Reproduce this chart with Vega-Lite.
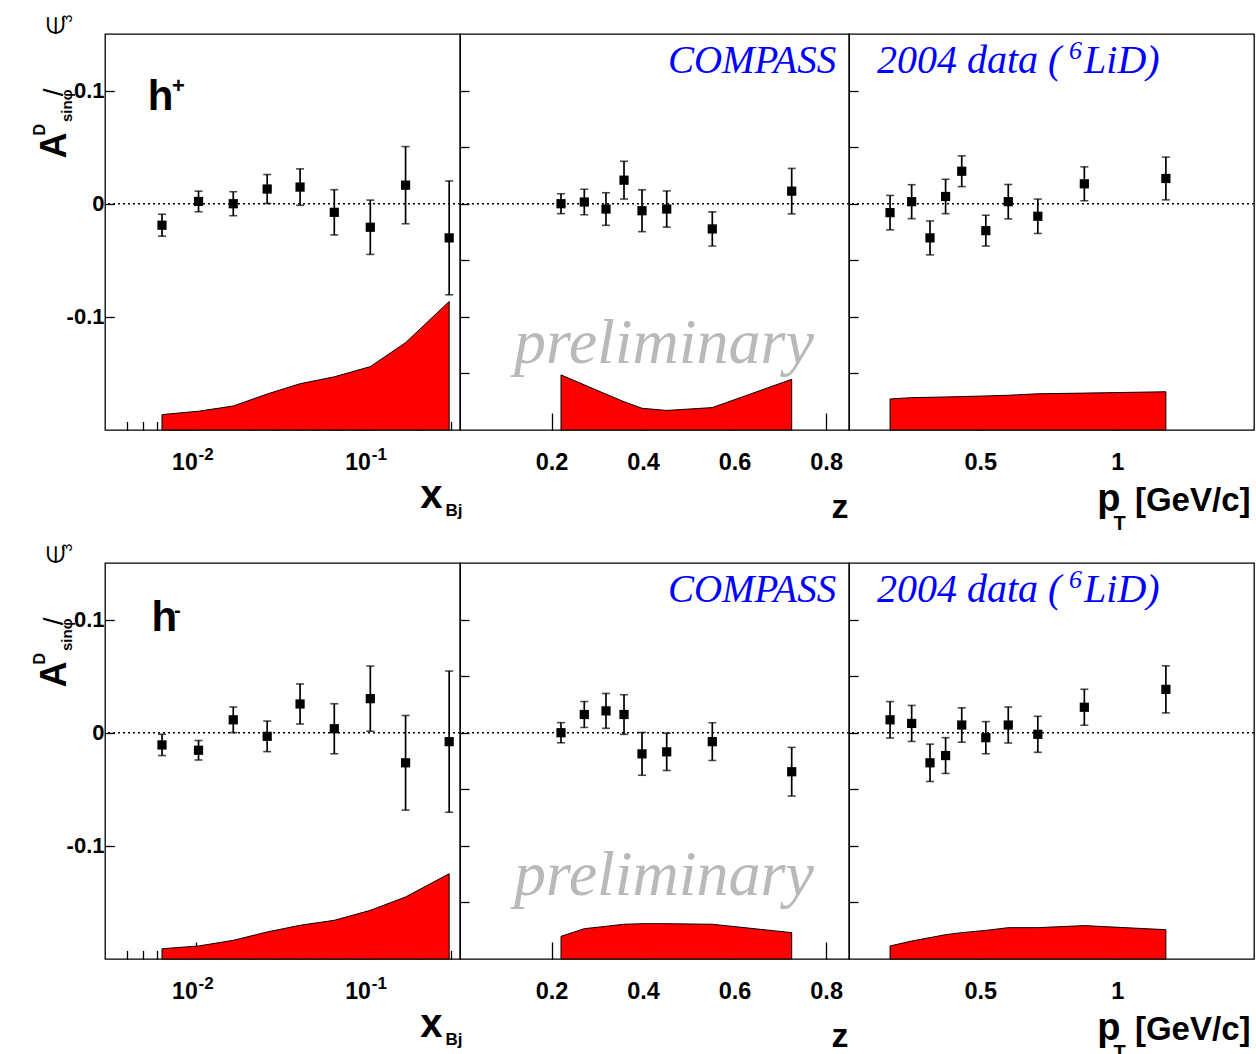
{
  "$schema": "https://vega.github.io/schema/vega-lite/v6.json",
  "background": "white",
  "padding": {"left": 30, "top": 13, "right": 0, "bottom": 0},
  "config": {
    "view": {"stroke": "#000000", "strokeWidth": 1.3},
    "axis": {
      "grid": false, "domain": false, "tickColor": "#000000", "tickWidth": 1.3,
      "labelFont": "Liberation Sans", "labelFontWeight": "bold", "labelFontSize": 22, "labelColor": "#000000",
      "labelFlush": false, "labelOverlap": false,
      "titleFont": "Liberation Sans", "titleFontWeight": "bold", "titleColor": "#000000", "titlePadding": 0
    }
  },
  "datasets": {
    "hp_x": [
      {"xbj": 0.0064, "asym": -0.019, "stat": 0.0097, "sys": 0.0136},
      {"xbj": 0.0104, "asym": 0.002, "stat": 0.0091, "sys": 0.0166},
      {"xbj": 0.0165, "asym": 0.0, "stat": 0.0106, "sys": 0.0212},
      {"xbj": 0.0259, "asym": 0.013, "stat": 0.0128, "sys": 0.0318},
      {"xbj": 0.0401, "asym": 0.0147, "stat": 0.0161, "sys": 0.0409},
      {"xbj": 0.0632, "asym": -0.0076, "stat": 0.02, "sys": 0.047},
      {"xbj": 0.102, "asym": -0.0208, "stat": 0.024, "sys": 0.056},
      {"xbj": 0.163, "asym": 0.0164, "stat": 0.0341, "sys": 0.0772},
      {"xbj": 0.291, "asym": -0.0302, "stat": 0.0503, "sys": 0.1136}
    ],
    "hp_z": [
      {"z": 0.2207, "asym": 0.0, "stat": 0.0088, "sys": 0.0487},
      {"z": 0.2716, "asym": 0.0015, "stat": 0.0113, "sys": 0.0399},
      {"z": 0.319, "asym": -0.0047, "stat": 0.0144, "sys": 0.0317},
      {"z": 0.3584, "asym": 0.0208, "stat": 0.0167, "sys": 0.025},
      {"z": 0.3977, "asym": -0.0062, "stat": 0.0185, "sys": 0.0192},
      {"z": 0.4517, "asym": -0.0047, "stat": 0.016, "sys": 0.0173},
      {"z": 0.5513, "asym": -0.0223, "stat": 0.0151, "sys": 0.0198},
      {"z": 0.7248, "asym": 0.0111, "stat": 0.0201, "sys": 0.0448}
    ],
    "hp_pt": [
      {"pt": 0.17, "asym": -0.0079, "stat": 0.0152, "sys": 0.0274},
      {"pt": 0.249, "asym": 0.0018, "stat": 0.015, "sys": 0.0286},
      {"pt": 0.316, "asym": -0.0302, "stat": 0.015, "sys": 0.0289},
      {"pt": 0.373, "asym": 0.0064, "stat": 0.0152, "sys": 0.0292},
      {"pt": 0.432, "asym": 0.0287, "stat": 0.0136, "sys": 0.0295},
      {"pt": 0.52, "asym": -0.0238, "stat": 0.0136, "sys": 0.0301},
      {"pt": 0.602, "asym": 0.0018, "stat": 0.0152, "sys": 0.0307},
      {"pt": 0.71, "asym": -0.0111, "stat": 0.0152, "sys": 0.032},
      {"pt": 0.88, "asym": 0.0176, "stat": 0.015, "sys": 0.0326},
      {"pt": 1.178, "asym": 0.0223, "stat": 0.0189, "sys": 0.0338}
    ],
    "hm_x": [
      {"xbj": 0.0064, "asym": -0.0108, "stat": 0.0094, "sys": 0.0091},
      {"xbj": 0.0104, "asym": -0.0155, "stat": 0.0086, "sys": 0.0115},
      {"xbj": 0.0165, "asym": 0.0114, "stat": 0.0113, "sys": 0.0165},
      {"xbj": 0.0259, "asym": -0.0032, "stat": 0.0135, "sys": 0.0239},
      {"xbj": 0.0401, "asym": 0.0254, "stat": 0.0177, "sys": 0.0298},
      {"xbj": 0.0632, "asym": 0.0035, "stat": 0.0221, "sys": 0.0342},
      {"xbj": 0.102, "asym": 0.0301, "stat": 0.0288, "sys": 0.043},
      {"xbj": 0.163, "asym": -0.0266, "stat": 0.0418, "sys": 0.0548},
      {"xbj": 0.291, "asym": -0.0079, "stat": 0.0624, "sys": 0.0754}
    ],
    "hm_z": [
      {"z": 0.2207, "asym": 0.0, "stat": 0.0089, "sys": 0.02},
      {"z": 0.2716, "asym": 0.0161, "stat": 0.0115, "sys": 0.0268},
      {"z": 0.319, "asym": 0.0193, "stat": 0.0154, "sys": 0.0289},
      {"z": 0.3584, "asym": 0.0161, "stat": 0.0175, "sys": 0.0307},
      {"z": 0.3977, "asym": -0.0187, "stat": 0.0189, "sys": 0.0312},
      {"z": 0.4517, "asym": -0.0169, "stat": 0.0165, "sys": 0.0312},
      {"z": 0.5513, "asym": -0.0079, "stat": 0.0167, "sys": 0.0307},
      {"z": 0.7248, "asym": -0.0345, "stat": 0.0215, "sys": 0.0233}
    ],
    "hm_pt": [
      {"pt": 0.17, "asym": 0.0114, "stat": 0.0161, "sys": 0.0115},
      {"pt": 0.249, "asym": 0.0082, "stat": 0.0159, "sys": 0.0159},
      {"pt": 0.316, "asym": -0.0266, "stat": 0.0165, "sys": 0.0189},
      {"pt": 0.373, "asym": -0.0202, "stat": 0.0158, "sys": 0.0215},
      {"pt": 0.432, "asym": 0.0068, "stat": 0.0152, "sys": 0.0233},
      {"pt": 0.52, "asym": -0.0044, "stat": 0.0142, "sys": 0.0253},
      {"pt": 0.602, "asym": 0.0068, "stat": 0.0159, "sys": 0.0277},
      {"pt": 0.71, "asym": -0.0014, "stat": 0.0159, "sys": 0.0277},
      {"pt": 0.88, "asym": 0.0225, "stat": 0.0159, "sys": 0.0295},
      {"pt": 1.178, "asym": 0.0383, "stat": 0.0208, "sys": 0.0259}
    ]
  },
  "columns": 3,
  "spacing": {"row": 133, "column": 0},
  "bounds": "flush",
  "align": "each",
  "concat": [
    {
      "width": 355, "height": 396,
      "resolve": {"scale": {"y": "independent"}, "axis": {"x": "independent", "y": "independent"}},
      "layer": [
        {
          "data": {"values": [{}]},
          "mark": {"type": "rule", "color": "#000000", "strokeWidth": 1.4, "strokeDash": [2, 3]},
          "encoding": {
            "y": {"datum": 0, "type": "quantitative", "scale": {"domain": [-0.2, 0.15], "nice": false, "zero": false},
              "axis": {"orient": "left", "values": [-0.1, 0, 0.1], "labelExpr": "datum.value == 0 ? '0' : (datum.value > 0 ? '0.1' : '-0.1')", "tickSize": -9.3, "labelPadding": 10.3,
                "title": "A", "titleFontSize": 36, "titleAngle": 270, "titleAlign": "left", "titleBaseline": "alphabetic", "titleX": -40, "titleY": 124}}
          }
        },
        {
          "data": {"name": "hp_x"},
          "mark": {"type": "area", "color": "#ff0000", "stroke": "#000000", "strokeWidth": 1, "opacity": 1},
          "encoding": {
            "x": {"field": "xbj", "type": "quantitative", "scale": {"type": "log", "domain": [0.003, 0.336], "nice": false},
              "axis": {"orient": "bottom", "values": [0.01, 0.1], "labelExpr": "'10'", "labelFontSize": 23, "labelOffset": -11.2, "tickSize": -17, "labelPadding": 56.3, "labelBaseline": "alphabetic",
                "title": "x", "titleFontSize": 40, "titleAlign": "right", "titleBaseline": "alphabetic", "titleX": 337, "titleY": 77}},
            "y": {"field": "sys", "type": "quantitative", "stack": null, "scale": {"domain": [0, 0.35], "nice": false, "zero": false},
              "axis": {"orient": "left", "labels": false, "ticks": false, "title": "D", "titleFontSize": 16, "titleAngle": 270, "titleAlign": "left", "titleBaseline": "alphabetic", "titleX": -60.7, "titleY": 101}}
          }
        },
        {
          "data": {"name": "hp_x"},
          "mark": {"type": "errorbar", "color": "#000000", "thickness": 1.7, "ticks": {"size": 8, "thickness": 1.6}},
          "encoding": {
            "x": {"field": "xbj", "type": "quantitative", "scale": {"type": "log", "domain": [0.003, 0.336], "nice": false},
              "axis": {"orient": "bottom", "values": [0.004, 0.005, 0.006, 0.007, 0.008, 0.009, 0.02, 0.03, 0.04, 0.05, 0.06, 0.07, 0.08, 0.09, 0.2, 0.3], "labels": false, "tickSize": -8.6,
                "title": "Bj", "titleFontSize": 17, "titleAlign": "left", "titleBaseline": "alphabetic", "titleX": 340, "titleY": 85}},
            "y": {"field": "asym", "type": "quantitative", "scale": {"domain": [-0.2, 0.15], "nice": false, "zero": false},
              "axis": {"orient": "left", "labels": false, "ticks": false, "title": "sinφ", "titleFontSize": 15, "titleAngle": 270, "titleAlign": "left", "titleBaseline": "alphabetic", "titleX": -34, "titleY": 87.5}},
            "yError": {"field": "stat"}
          }
        },
        {
          "data": {"name": "hp_x"},
          "mark": {"type": "point", "shape": "square", "filled": true, "size": 85, "color": "#000000", "opacity": 1},
          "encoding": {
            "x": {"field": "xbj", "type": "quantitative", "scale": {"type": "log", "domain": [0.003, 0.336], "nice": false},
              "axis": {"orient": "bottom", "values": [0.01, 0.1], "labelExpr": "datum.value < 0.05 ? '-2' : '-1'", "ticks": false, "tickSize": 0, "labelFontSize": 17, "labelAlign": "left", "labelOffset": 2.5, "labelPadding": 29, "labelBaseline": "alphabetic", "title": null}},
            "y": {"field": "asym", "type": "quantitative", "scale": {"domain": [-0.2, 0.15], "nice": false, "zero": false},
              "axis": {"orient": "left", "labels": false, "ticks": false, "title": "/", "titleFontSize": 28, "titleFontWeight": "normal", "titleAngle": 270, "titleAlign": "left", "titleBaseline": "alphabetic", "titleX": -43, "titleY": 61.7}}
          }
        },
        {
          "data": {"values": [{}]},
          "mark": {"type": "text", "font": "Liberation Sans", "fontWeight": "bold", "fontSize": 42, "align": "left", "baseline": "alphabetic", "color": "#000000"},
          "encoding": {
            "x": {"datum": 0.0053, "type": "quantitative", "scale": {"type": "log", "domain": [0.003, 0.336], "nice": false}, "axis": null},
            "y": {"datum": 0.0824, "type": "quantitative", "scale": {"domain": [-0.2, 0.15], "nice": false, "zero": false},
              "axis": {"orient": "left", "labels": false, "ticks": false, "title": "∈", "titleFontSize": 24, "titleFontWeight": "normal", "titleAngle": 270, "titleAlign": "left", "titleBaseline": "alphabetic", "titleX": -42, "titleY": 1.4}},
            "text": {"value": "h"}
          }
        },
        {
          "data": {"values": [{}]},
          "mark": {"type": "text", "font": "Liberation Sans", "fontWeight": "bold", "fontSize": 22, "align": "left", "baseline": "middle", "color": "#000000"},
          "encoding": {
            "x": {"datum": 0.0073, "type": "quantitative", "scale": {"type": "log", "domain": [0.003, 0.336], "nice": false}, "axis": null},
            "y": {"datum": 0.104, "type": "quantitative", "scale": {"domain": [-0.2, 0.15], "nice": false, "zero": false},
              "axis": {"orient": "left", "labels": false, "ticks": false, "title": "3", "titleFontSize": 14, "titleFontWeight": "normal", "titleAngle": 270, "titleAlign": "left", "titleBaseline": "alphabetic", "titleX": -34, "titleY": -12}},
            "text": {"value": "+"}
          }
        }
      ]
    },
    {
      "width": 389, "height": 396,
      "resolve": {"scale": {"y": "independent"}, "axis": {"x": "independent", "y": "independent"}},
      "layer": [
        {
          "data": {"values": [{}]},
          "mark": {"type": "rule", "color": "#000000", "strokeWidth": 1.4, "strokeDash": [2, 3]},
          "encoding": {
            "y": {"datum": 0, "type": "quantitative", "scale": {"domain": [-0.2, 0.15], "nice": false, "zero": false},
              "axis": {"orient": "left", "values": [-0.15, -0.1, -0.05, 0, 0.05, 0.1], "labels": false, "tickSize": -9, "title": null}}
          }
        },
        {
          "data": {"name": "hp_z"},
          "mark": {"type": "area", "color": "#ff0000", "stroke": "#000000", "strokeWidth": 1, "opacity": 1},
          "encoding": {
            "x": {"field": "z", "type": "quantitative", "scale": {"domain": [0, 0.85], "nice": false, "zero": false},
              "axis": {"orient": "bottom", "values": [0.2, 0.4, 0.6, 0.8], "format": ".1f", "labelFontSize": 23.5, "tickSize": -17, "labelPadding": 56.3, "labelBaseline": "alphabetic",
                "title": "z", "titleFontSize": 34, "titleAlign": "right", "titleBaseline": "alphabetic", "titleX": 388, "titleY": 87.5}},
            "y": {"field": "sys", "type": "quantitative", "stack": null, "scale": {"domain": [0, 0.35], "nice": false, "zero": false}, "axis": null}
          }
        },
        {
          "data": {"name": "hp_z"},
          "mark": {"type": "errorbar", "color": "#000000", "thickness": 1.7, "ticks": {"size": 8, "thickness": 1.6}},
          "encoding": {
            "x": {"field": "z", "type": "quantitative", "scale": {"domain": [0, 0.85], "nice": false, "zero": false}, "axis": null},
            "y": {"field": "asym", "type": "quantitative", "scale": {"domain": [-0.2, 0.15], "nice": false, "zero": false}, "axis": null},
            "yError": {"field": "stat"}
          }
        },
        {
          "data": {"name": "hp_z"},
          "mark": {"type": "point", "shape": "square", "filled": true, "size": 85, "color": "#000000", "opacity": 1},
          "encoding": {
            "x": {"field": "z", "type": "quantitative", "scale": {"domain": [0, 0.85], "nice": false, "zero": false}, "axis": null},
            "y": {"field": "asym", "type": "quantitative", "scale": {"domain": [-0.2, 0.15], "nice": false, "zero": false}, "axis": null}
          }
        },
        {
          "data": {"values": [{}]},
          "mark": {"type": "text", "font": "Liberation Serif", "fontStyle": "italic", "fontSize": 39, "align": "right", "baseline": "alphabetic", "color": "#0000ff"},
          "encoding": {
            "x": {"datum": 0.822, "type": "quantitative", "scale": {"domain": [0, 0.85], "nice": false, "zero": false}, "axis": null},
            "y": {"datum": 0.1155, "type": "quantitative", "scale": {"domain": [-0.2, 0.15], "nice": false, "zero": false}, "axis": null},
            "text": {"value": "COMPASS"}
          }
        },
        {
          "data": {"values": [{}]},
          "mark": {"type": "text", "font": "Liberation Serif", "fontStyle": "italic", "fontSize": 64, "align": "center", "baseline": "alphabetic", "color": "#b9b9b9"},
          "encoding": {
            "x": {"datum": 0.4458, "type": "quantitative", "scale": {"domain": [0, 0.85], "nice": false, "zero": false}, "axis": null},
            "y": {"datum": -0.1405, "type": "quantitative", "scale": {"domain": [-0.2, 0.15], "nice": false, "zero": false}, "axis": null},
            "text": {"value": "preliminary"}
          }
        }
      ]
    },
    {
      "width": 405, "height": 396,
      "resolve": {"scale": {"y": "independent"}, "axis": {"x": "independent", "y": "independent"}},
      "layer": [
        {
          "data": {"values": [{}]},
          "mark": {"type": "rule", "color": "#000000", "strokeWidth": 1.4, "strokeDash": [2, 3]},
          "encoding": {
            "y": {"datum": 0, "type": "quantitative", "scale": {"domain": [-0.2, 0.15], "nice": false, "zero": false},
              "axis": {"orient": "left", "values": [-0.15, -0.1, -0.05, 0, 0.05, 0.1], "labels": false, "tickSize": -9, "title": null}}
          }
        },
        {
          "data": {"name": "hp_pt"},
          "mark": {"type": "area", "color": "#ff0000", "stroke": "#000000", "strokeWidth": 1, "opacity": 1},
          "encoding": {
            "x": {"field": "pt", "type": "quantitative", "scale": {"domain": [0.02, 1.5], "nice": false, "zero": false},
              "axis": {"orient": "bottom", "values": [0.5, 1], "labelExpr": "datum.value == 1 ? '1' : '0.5'", "labelFontSize": 23.5, "tickSize": -17, "labelPadding": 56.3, "labelBaseline": "alphabetic",
                "title": "[GeV/c]", "titleFontSize": 33, "titleAlign": "right", "titleBaseline": "alphabetic", "titleX": 401, "titleY": 80.6}},
            "y": {"field": "sys", "type": "quantitative", "stack": null, "scale": {"domain": [0, 0.35], "nice": false, "zero": false}, "axis": null}
          }
        },
        {
          "data": {"name": "hp_pt"},
          "mark": {"type": "errorbar", "color": "#000000", "thickness": 1.7, "ticks": {"size": 8, "thickness": 1.6}},
          "encoding": {
            "x": {"field": "pt", "type": "quantitative", "scale": {"domain": [0.02, 1.5], "nice": false, "zero": false},
              "axis": {"orient": "bottom", "labels": false, "ticks": false, "title": "p", "titleFontSize": 38, "titleAlign": "right", "titleBaseline": "alphabetic", "titleX": 271, "titleY": 80}},
            "y": {"field": "asym", "type": "quantitative", "scale": {"domain": [-0.2, 0.15], "nice": false, "zero": false}, "axis": null},
            "yError": {"field": "stat"}
          }
        },
        {
          "data": {"name": "hp_pt"},
          "mark": {"type": "point", "shape": "square", "filled": true, "size": 85, "color": "#000000", "opacity": 1},
          "encoding": {
            "x": {"field": "pt", "type": "quantitative", "scale": {"domain": [0.02, 1.5], "nice": false, "zero": false},
              "axis": {"orient": "bottom", "labels": false, "ticks": false, "title": "T", "titleFontSize": 20, "titleAlign": "left", "titleBaseline": "alphabetic", "titleX": 264, "titleY": 99.6}},
            "y": {"field": "asym", "type": "quantitative", "scale": {"domain": [-0.2, 0.15], "nice": false, "zero": false}, "axis": null}
          }
        },
        {
          "data": {"values": [{}]},
          "mark": {"type": "text", "font": "Liberation Serif", "fontStyle": "italic", "fontSize": 40, "align": "left", "baseline": "alphabetic", "color": "#0000ff"},
          "encoding": {
            "x": {"datum": 0.1223, "type": "quantitative", "scale": {"domain": [0.02, 1.5], "nice": false, "zero": false}, "axis": null},
            "y": {"datum": 0.1155, "type": "quantitative", "scale": {"domain": [-0.2, 0.15], "nice": false, "zero": false}, "axis": null},
            "text": {"value": "2004  data ("}
          }
        },
        {
          "data": {"values": [{}]},
          "mark": {"type": "text", "font": "Liberation Serif", "fontStyle": "italic", "fontSize": 26, "align": "left", "baseline": "alphabetic", "color": "#0000ff"},
          "encoding": {
            "x": {"datum": 0.8241, "type": "quantitative", "scale": {"domain": [0.02, 1.5], "nice": false, "zero": false}, "axis": null},
            "y": {"datum": 0.1275, "type": "quantitative", "scale": {"domain": [-0.2, 0.15], "nice": false, "zero": false}, "axis": null},
            "text": {"value": "6"}
          }
        },
        {
          "data": {"values": [{}]},
          "mark": {"type": "text", "font": "Liberation Serif", "fontStyle": "italic", "fontSize": 40, "align": "left", "baseline": "alphabetic", "color": "#0000ff"},
          "encoding": {
            "x": {"datum": 0.8789, "type": "quantitative", "scale": {"domain": [0.02, 1.5], "nice": false, "zero": false}, "axis": null},
            "y": {"datum": 0.1155, "type": "quantitative", "scale": {"domain": [-0.2, 0.15], "nice": false, "zero": false}, "axis": null},
            "text": {"value": "LiD)"}
          }
        }
      ]
    },
    {
      "width": 355, "height": 396,
      "resolve": {"scale": {"y": "independent"}, "axis": {"x": "independent", "y": "independent"}},
      "layer": [
        {
          "data": {"values": [{}]},
          "mark": {"type": "rule", "color": "#000000", "strokeWidth": 1.4, "strokeDash": [2, 3]},
          "encoding": {
            "y": {"datum": 0, "type": "quantitative", "scale": {"domain": [-0.2, 0.15], "nice": false, "zero": false},
              "axis": {"orient": "left", "values": [-0.1, 0, 0.1], "labelExpr": "datum.value == 0 ? '0' : (datum.value > 0 ? '0.1' : '-0.1')", "tickSize": -9.3, "labelPadding": 10.3,
                "title": "A", "titleFontSize": 36, "titleAngle": 270, "titleAlign": "left", "titleBaseline": "alphabetic", "titleX": -40, "titleY": 124}}
          }
        },
        {
          "data": {"name": "hm_x"},
          "mark": {"type": "area", "color": "#ff0000", "stroke": "#000000", "strokeWidth": 1, "opacity": 1},
          "encoding": {
            "x": {"field": "xbj", "type": "quantitative", "scale": {"type": "log", "domain": [0.003, 0.336], "nice": false},
              "axis": {"orient": "bottom", "values": [0.01, 0.1], "labelExpr": "'10'", "labelFontSize": 23, "labelOffset": -11.2, "tickSize": -17, "labelPadding": 56.3, "labelBaseline": "alphabetic",
                "title": "x", "titleFontSize": 40, "titleAlign": "right", "titleBaseline": "alphabetic", "titleX": 337, "titleY": 77}},
            "y": {"field": "sys", "type": "quantitative", "stack": null, "scale": {"domain": [0, 0.35], "nice": false, "zero": false},
              "axis": {"orient": "left", "labels": false, "ticks": false, "title": "D", "titleFontSize": 16, "titleAngle": 270, "titleAlign": "left", "titleBaseline": "alphabetic", "titleX": -60.7, "titleY": 101}}
          }
        },
        {
          "data": {"name": "hm_x"},
          "mark": {"type": "errorbar", "color": "#000000", "thickness": 1.7, "ticks": {"size": 8, "thickness": 1.6}},
          "encoding": {
            "x": {"field": "xbj", "type": "quantitative", "scale": {"type": "log", "domain": [0.003, 0.336], "nice": false},
              "axis": {"orient": "bottom", "values": [0.004, 0.005, 0.006, 0.007, 0.008, 0.009, 0.02, 0.03, 0.04, 0.05, 0.06, 0.07, 0.08, 0.09, 0.2, 0.3], "labels": false, "tickSize": -8.6,
                "title": "Bj", "titleFontSize": 17, "titleAlign": "left", "titleBaseline": "alphabetic", "titleX": 340, "titleY": 85}},
            "y": {"field": "asym", "type": "quantitative", "scale": {"domain": [-0.2, 0.15], "nice": false, "zero": false},
              "axis": {"orient": "left", "labels": false, "ticks": false, "title": "sinφ", "titleFontSize": 15, "titleAngle": 270, "titleAlign": "left", "titleBaseline": "alphabetic", "titleX": -34, "titleY": 87.5}},
            "yError": {"field": "stat"}
          }
        },
        {
          "data": {"name": "hm_x"},
          "mark": {"type": "point", "shape": "square", "filled": true, "size": 85, "color": "#000000", "opacity": 1},
          "encoding": {
            "x": {"field": "xbj", "type": "quantitative", "scale": {"type": "log", "domain": [0.003, 0.336], "nice": false},
              "axis": {"orient": "bottom", "values": [0.01, 0.1], "labelExpr": "datum.value < 0.05 ? '-2' : '-1'", "ticks": false, "tickSize": 0, "labelFontSize": 17, "labelAlign": "left", "labelOffset": 2.5, "labelPadding": 29, "labelBaseline": "alphabetic", "title": null}},
            "y": {"field": "asym", "type": "quantitative", "scale": {"domain": [-0.2, 0.15], "nice": false, "zero": false},
              "axis": {"orient": "left", "labels": false, "ticks": false, "title": "/", "titleFontSize": 28, "titleFontWeight": "normal", "titleAngle": 270, "titleAlign": "left", "titleBaseline": "alphabetic", "titleX": -43, "titleY": 61.7}}
          }
        },
        {
          "data": {"values": [{}]},
          "mark": {"type": "text", "font": "Liberation Sans", "fontWeight": "bold", "fontSize": 42, "align": "left", "baseline": "alphabetic", "color": "#000000"},
          "encoding": {
            "x": {"datum": 0.00556, "type": "quantitative", "scale": {"type": "log", "domain": [0.003, 0.336], "nice": false}, "axis": null},
            "y": {"datum": 0.0899, "type": "quantitative", "scale": {"domain": [-0.2, 0.15], "nice": false, "zero": false},
              "axis": {"orient": "left", "labels": false, "ticks": false, "title": "∈", "titleFontSize": 24, "titleFontWeight": "normal", "titleAngle": 270, "titleAlign": "left", "titleBaseline": "alphabetic", "titleX": -42, "titleY": 1.4}},
            "text": {"value": "h"}
          }
        },
        {
          "data": {"values": [{}]},
          "mark": {"type": "text", "font": "Liberation Sans", "fontWeight": "bold", "fontSize": 20, "align": "left", "baseline": "middle", "color": "#000000"},
          "encoding": {
            "x": {"datum": 0.0075, "type": "quantitative", "scale": {"type": "log", "domain": [0.003, 0.336], "nice": false}, "axis": null},
            "y": {"datum": 0.1076, "type": "quantitative", "scale": {"domain": [-0.2, 0.15], "nice": false, "zero": false},
              "axis": {"orient": "left", "labels": false, "ticks": false, "title": "3", "titleFontSize": 14, "titleFontWeight": "normal", "titleAngle": 270, "titleAlign": "left", "titleBaseline": "alphabetic", "titleX": -34, "titleY": -12}},
            "text": {"value": "-"}
          }
        }
      ]
    },
    {
      "width": 389, "height": 396,
      "resolve": {"scale": {"y": "independent"}, "axis": {"x": "independent", "y": "independent"}},
      "layer": [
        {
          "data": {"values": [{}]},
          "mark": {"type": "rule", "color": "#000000", "strokeWidth": 1.4, "strokeDash": [2, 3]},
          "encoding": {
            "y": {"datum": 0, "type": "quantitative", "scale": {"domain": [-0.2, 0.15], "nice": false, "zero": false},
              "axis": {"orient": "left", "values": [-0.15, -0.1, -0.05, 0, 0.05, 0.1], "labels": false, "tickSize": -9, "title": null}}
          }
        },
        {
          "data": {"name": "hm_z"},
          "mark": {"type": "area", "color": "#ff0000", "stroke": "#000000", "strokeWidth": 1, "opacity": 1},
          "encoding": {
            "x": {"field": "z", "type": "quantitative", "scale": {"domain": [0, 0.85], "nice": false, "zero": false},
              "axis": {"orient": "bottom", "values": [0.2, 0.4, 0.6, 0.8], "format": ".1f", "labelFontSize": 23.5, "tickSize": -17, "labelPadding": 56.3, "labelBaseline": "alphabetic",
                "title": "z", "titleFontSize": 34, "titleAlign": "right", "titleBaseline": "alphabetic", "titleX": 388, "titleY": 87.5}},
            "y": {"field": "sys", "type": "quantitative", "stack": null, "scale": {"domain": [0, 0.35], "nice": false, "zero": false}, "axis": null}
          }
        },
        {
          "data": {"name": "hm_z"},
          "mark": {"type": "errorbar", "color": "#000000", "thickness": 1.7, "ticks": {"size": 8, "thickness": 1.6}},
          "encoding": {
            "x": {"field": "z", "type": "quantitative", "scale": {"domain": [0, 0.85], "nice": false, "zero": false}, "axis": null},
            "y": {"field": "asym", "type": "quantitative", "scale": {"domain": [-0.2, 0.15], "nice": false, "zero": false}, "axis": null},
            "yError": {"field": "stat"}
          }
        },
        {
          "data": {"name": "hm_z"},
          "mark": {"type": "point", "shape": "square", "filled": true, "size": 85, "color": "#000000", "opacity": 1},
          "encoding": {
            "x": {"field": "z", "type": "quantitative", "scale": {"domain": [0, 0.85], "nice": false, "zero": false}, "axis": null},
            "y": {"field": "asym", "type": "quantitative", "scale": {"domain": [-0.2, 0.15], "nice": false, "zero": false}, "axis": null}
          }
        },
        {
          "data": {"values": [{}]},
          "mark": {"type": "text", "font": "Liberation Serif", "fontStyle": "italic", "fontSize": 39, "align": "right", "baseline": "alphabetic", "color": "#0000ff"},
          "encoding": {
            "x": {"datum": 0.822, "type": "quantitative", "scale": {"domain": [0, 0.85], "nice": false, "zero": false}, "axis": null},
            "y": {"datum": 0.1155, "type": "quantitative", "scale": {"domain": [-0.2, 0.15], "nice": false, "zero": false}, "axis": null},
            "text": {"value": "COMPASS"}
          }
        },
        {
          "data": {"values": [{}]},
          "mark": {"type": "text", "font": "Liberation Serif", "fontStyle": "italic", "fontSize": 64, "align": "center", "baseline": "alphabetic", "color": "#b9b9b9"},
          "encoding": {
            "x": {"datum": 0.4458, "type": "quantitative", "scale": {"domain": [0, 0.85], "nice": false, "zero": false}, "axis": null},
            "y": {"datum": -0.1438, "type": "quantitative", "scale": {"domain": [-0.2, 0.15], "nice": false, "zero": false}, "axis": null},
            "text": {"value": "preliminary"}
          }
        }
      ]
    },
    {
      "width": 405, "height": 396,
      "resolve": {"scale": {"y": "independent"}, "axis": {"x": "independent", "y": "independent"}},
      "layer": [
        {
          "data": {"values": [{}]},
          "mark": {"type": "rule", "color": "#000000", "strokeWidth": 1.4, "strokeDash": [2, 3]},
          "encoding": {
            "y": {"datum": 0, "type": "quantitative", "scale": {"domain": [-0.2, 0.15], "nice": false, "zero": false},
              "axis": {"orient": "left", "values": [-0.15, -0.1, -0.05, 0, 0.05, 0.1], "labels": false, "tickSize": -9, "title": null}}
          }
        },
        {
          "data": {"name": "hm_pt"},
          "mark": {"type": "area", "color": "#ff0000", "stroke": "#000000", "strokeWidth": 1, "opacity": 1},
          "encoding": {
            "x": {"field": "pt", "type": "quantitative", "scale": {"domain": [0.02, 1.5], "nice": false, "zero": false},
              "axis": {"orient": "bottom", "values": [0.5, 1], "labelExpr": "datum.value == 1 ? '1' : '0.5'", "labelFontSize": 23.5, "tickSize": -17, "labelPadding": 56.3, "labelBaseline": "alphabetic",
                "title": "[GeV/c]", "titleFontSize": 33, "titleAlign": "right", "titleBaseline": "alphabetic", "titleX": 401, "titleY": 80.6}},
            "y": {"field": "sys", "type": "quantitative", "stack": null, "scale": {"domain": [0, 0.35], "nice": false, "zero": false}, "axis": null}
          }
        },
        {
          "data": {"name": "hm_pt"},
          "mark": {"type": "errorbar", "color": "#000000", "thickness": 1.7, "ticks": {"size": 8, "thickness": 1.6}},
          "encoding": {
            "x": {"field": "pt", "type": "quantitative", "scale": {"domain": [0.02, 1.5], "nice": false, "zero": false},
              "axis": {"orient": "bottom", "labels": false, "ticks": false, "title": "p", "titleFontSize": 38, "titleAlign": "right", "titleBaseline": "alphabetic", "titleX": 271, "titleY": 80}},
            "y": {"field": "asym", "type": "quantitative", "scale": {"domain": [-0.2, 0.15], "nice": false, "zero": false}, "axis": null},
            "yError": {"field": "stat"}
          }
        },
        {
          "data": {"name": "hm_pt"},
          "mark": {"type": "point", "shape": "square", "filled": true, "size": 85, "color": "#000000", "opacity": 1},
          "encoding": {
            "x": {"field": "pt", "type": "quantitative", "scale": {"domain": [0.02, 1.5], "nice": false, "zero": false},
              "axis": {"orient": "bottom", "labels": false, "ticks": false, "title": "T", "titleFontSize": 20, "titleAlign": "left", "titleBaseline": "alphabetic", "titleX": 264, "titleY": 99.6}},
            "y": {"field": "asym", "type": "quantitative", "scale": {"domain": [-0.2, 0.15], "nice": false, "zero": false}, "axis": null}
          }
        },
        {
          "data": {"values": [{}]},
          "mark": {"type": "text", "font": "Liberation Serif", "fontStyle": "italic", "fontSize": 40, "align": "left", "baseline": "alphabetic", "color": "#0000ff"},
          "encoding": {
            "x": {"datum": 0.1223, "type": "quantitative", "scale": {"domain": [0.02, 1.5], "nice": false, "zero": false}, "axis": null},
            "y": {"datum": 0.1155, "type": "quantitative", "scale": {"domain": [-0.2, 0.15], "nice": false, "zero": false}, "axis": null},
            "text": {"value": "2004  data ("}
          }
        },
        {
          "data": {"values": [{}]},
          "mark": {"type": "text", "font": "Liberation Serif", "fontStyle": "italic", "fontSize": 26, "align": "left", "baseline": "alphabetic", "color": "#0000ff"},
          "encoding": {
            "x": {"datum": 0.8241, "type": "quantitative", "scale": {"domain": [0.02, 1.5], "nice": false, "zero": false}, "axis": null},
            "y": {"datum": 0.1275, "type": "quantitative", "scale": {"domain": [-0.2, 0.15], "nice": false, "zero": false}, "axis": null},
            "text": {"value": "6"}
          }
        },
        {
          "data": {"values": [{}]},
          "mark": {"type": "text", "font": "Liberation Serif", "fontStyle": "italic", "fontSize": 40, "align": "left", "baseline": "alphabetic", "color": "#0000ff"},
          "encoding": {
            "x": {"datum": 0.8789, "type": "quantitative", "scale": {"domain": [0.02, 1.5], "nice": false, "zero": false}, "axis": null},
            "y": {"datum": 0.1155, "type": "quantitative", "scale": {"domain": [-0.2, 0.15], "nice": false, "zero": false}, "axis": null},
            "text": {"value": "LiD)"}
          }
        }
      ]
    }
  ]
}
